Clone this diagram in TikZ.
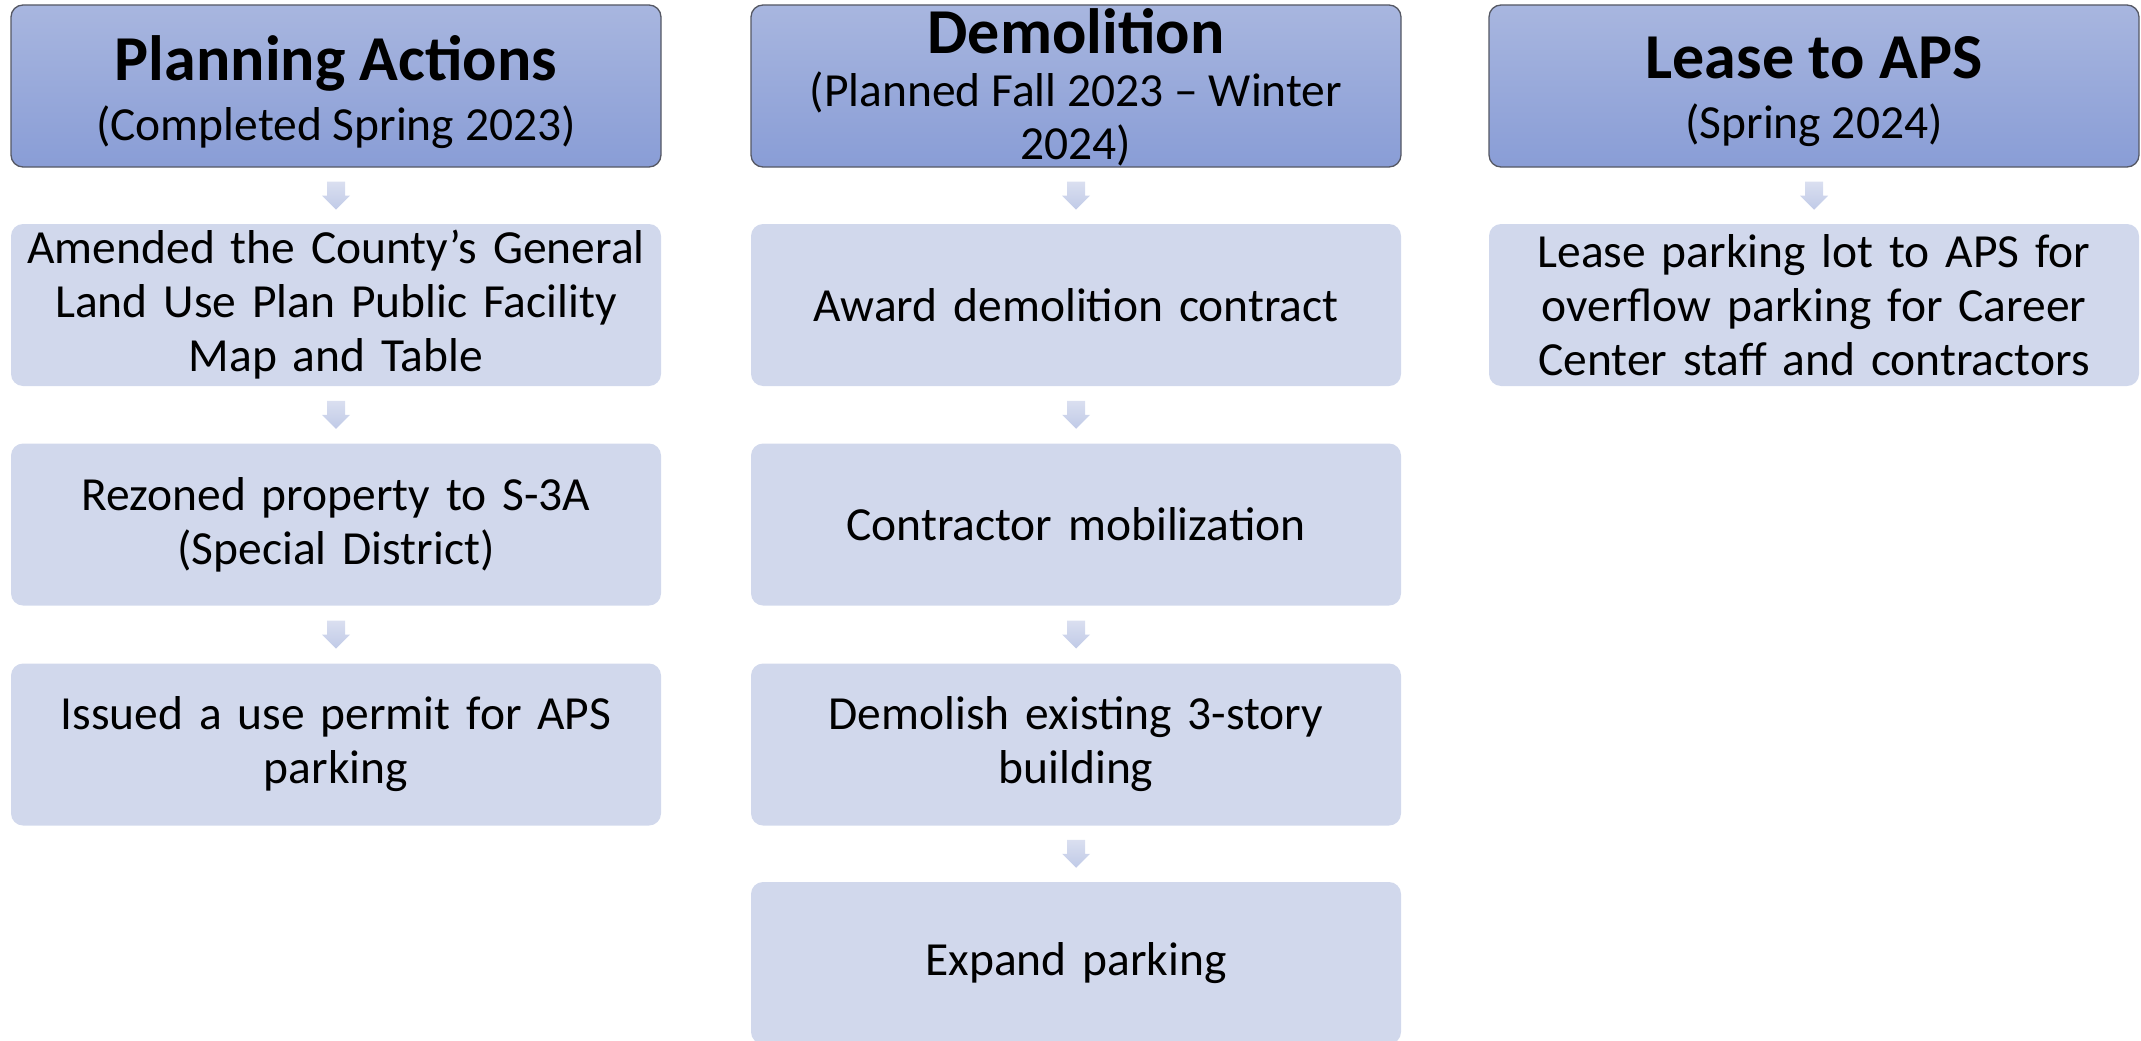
\documentclass[tikz,border=0pt]{standalone}
\usepackage{fontspec}
\setmainfont{Carlito}
\usetikzlibrary{calc}
\definecolor{hdrtop}{RGB}{168,182,223}
\definecolor{hdrbot}{RGB}{137,157,214}
\definecolor{hdrline}{RGB}{85,88,100}
\definecolor{boxfill}{RGB}{209,216,236}
\definecolor{arrtop}{RGB}{218,223,240}
\definecolor{arrbot}{RGB}{192,202,231}
\tikzset{
  hdrbox/.style={draw=hdrline, line width=1.3pt, rounded corners=12pt,
    top color=hdrtop, bottom color=hdrbot, minimum width=650pt,
    minimum height=162pt, inner sep=0pt},
  hdrtext/.style={align=center, inner sep=0pt, text=black},
  stepbox/.style={fill=boxfill, rounded corners=12pt, minimum width=650pt,
    minimum height=162pt, inner sep=0pt, text width=630pt, align=center,
    font=\fontsize{47.5}{54}\selectfont},
  arrowfill/.style={top color=arrtop, bottom color=arrbot, draw=none}
}
\newcommand\flowarr[2]{\path[arrowfill] ($(#1.south)!0.5!(#2.north)$) ++(-9,-14) -- ++(18,0) -- ++(0,14) -- ++(5,0) -- ++(-14,14) -- ++(-14,-14) -- ++(5,0) -- cycle;}
\newcommand\ttl[1]{{\fontsize{64}{64}\selectfont\bfseries #1}}
\begin{document}
\begin{tikzpicture}[x=1pt,y=-1pt]
\useasboundingbox (0,0) rectangle (2141,1041);
\clip (0,0) rectangle (2141,1041);
% headers
\node[hdrbox] (h1) at (336,86) {};
\node[hdrbox] (h2) at (1076,86) {};
\node[hdrbox] (h3) at (1814,86) {};
\node[hdrtext, font=\fontsize{47.5}{60}\selectfont] (t1) at ([yshift=-6pt]h1.center) {\ttl{Planning Actions}\\(Completed Spring 2023)};
\node[hdrtext, font=\fontsize{47.5}{53}\selectfont] (t2) at ([yshift=-1pt]h2.center) {\ttl{Demolition}\\(Planned Fall 2023 – Winter\\2024)};
\node[hdrtext, font=\fontsize{47.5}{60}\selectfont] (t3) at ([yshift=-6pt]h3.center) {\ttl{Lease to APS}\\(Spring 2024)};
% column 1
\node[stepbox] (a1) at (336,305) {Amended the County’s General\\Land Use Plan Public Facility\\Map and Table};
\node[stepbox] (a2) at (336,524.5) {Rezoned property to S-3A\\(Special District)};
\node[stepbox] (a3) at (336,744.5) {Issued a use permit for APS\\parking};
% column 2
\node[stepbox] (b1) at (1076,305) {Award demolition contract};
\node[stepbox] (b2) at (1076,524.5) {Contractor mobilization};
\node[stepbox] (b3) at (1076,744.5) {Demolish existing 3-story\\building};
\node[stepbox] (b4) at (1076,963) {Expand parking};
% column 3
\node[stepbox] (c1) at (1814,305) {Lease parking lot to APS for\\overflow parking for Career\\Center staff and contractors};
% arrows
\flowarr{h1}{a1}
\flowarr{a1}{a2}
\flowarr{a2}{a3}
\flowarr{h2}{b1}
\flowarr{b1}{b2}
\flowarr{b2}{b3}
\flowarr{b3}{b4}
\flowarr{h3}{c1}
\end{tikzpicture}
\end{document}
